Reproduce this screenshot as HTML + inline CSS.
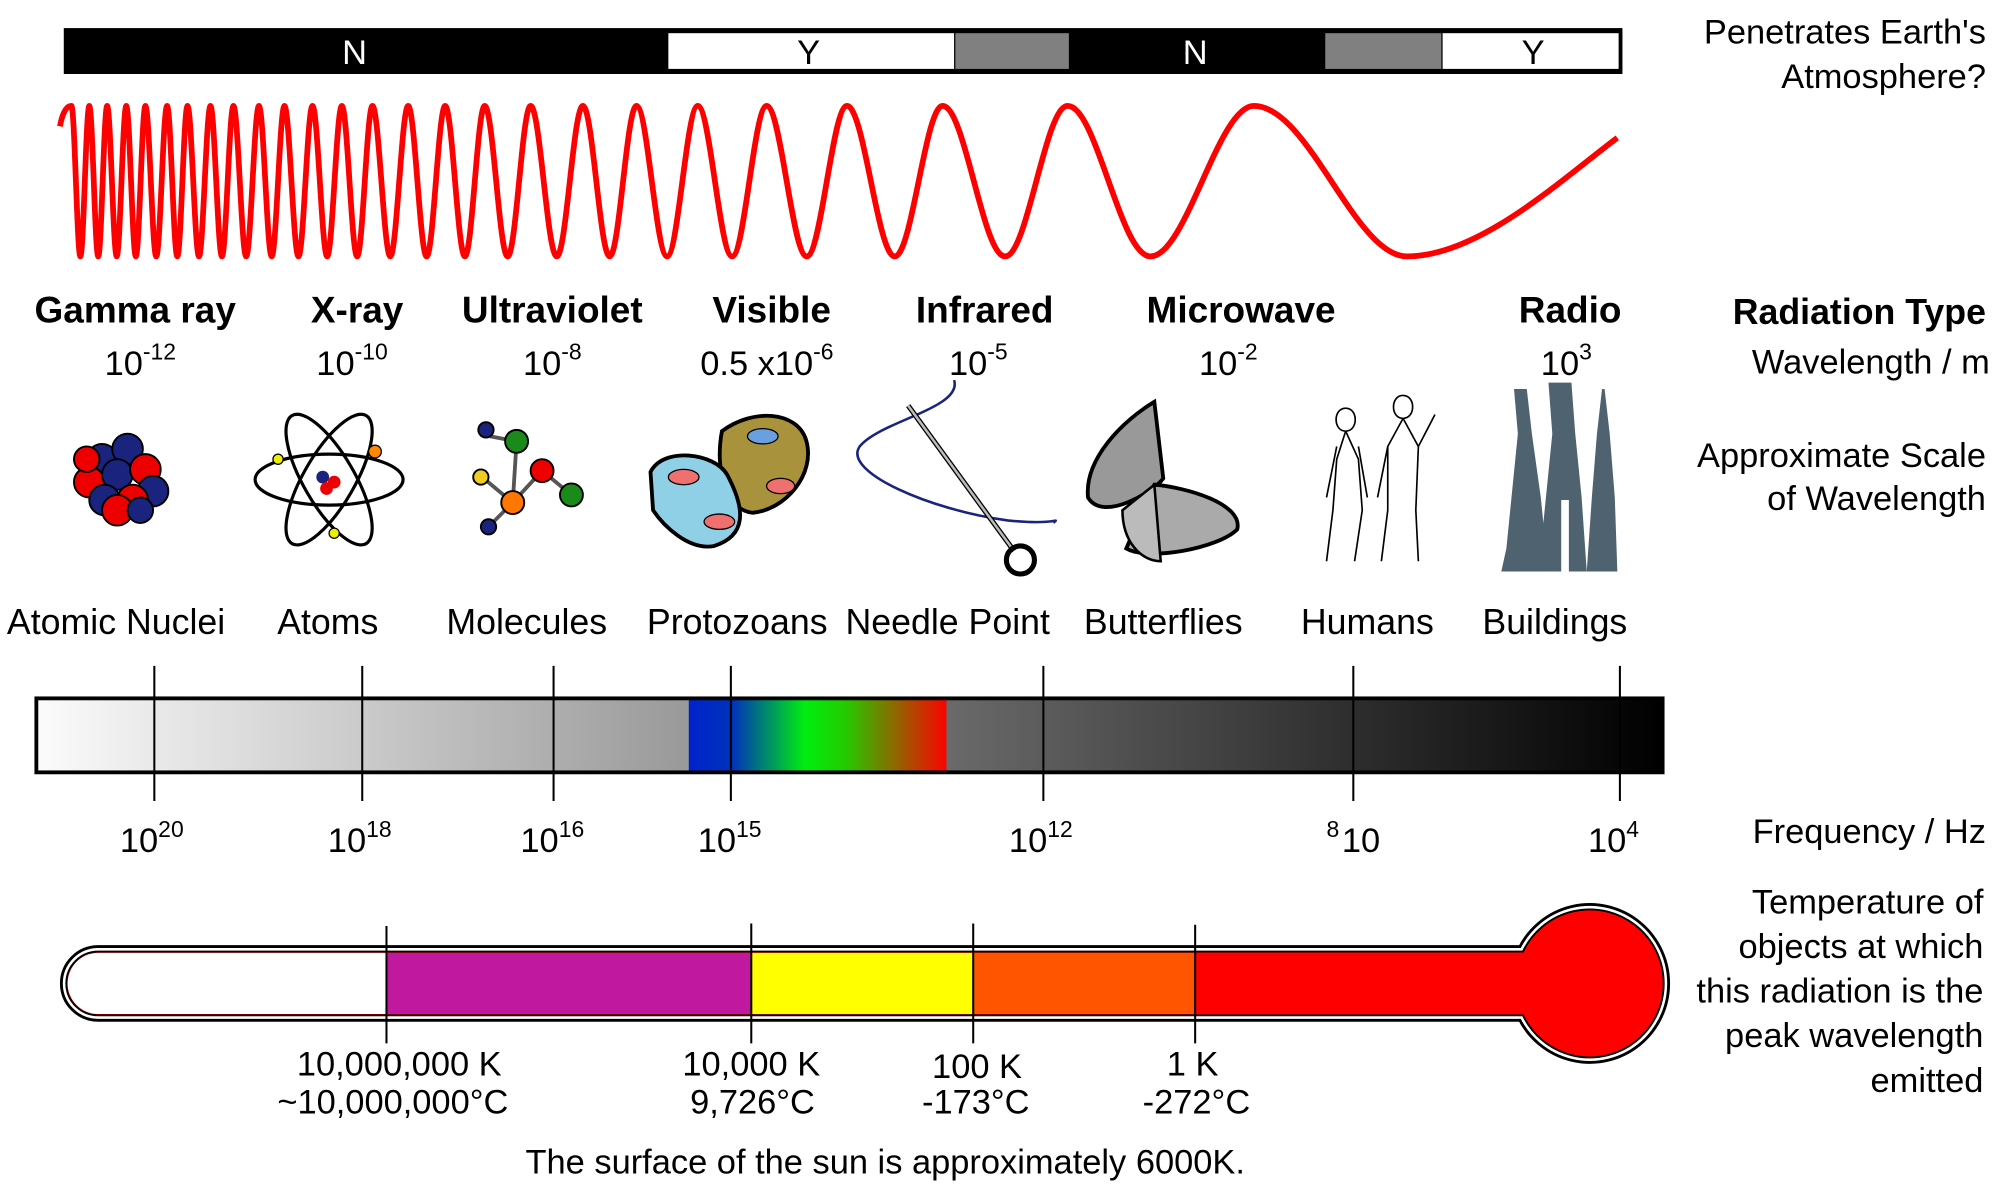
<!DOCTYPE html>
<html><head><meta charset="utf-8"><style>
html,body{margin:0;padding:0;background:#fff;}
svg{display:block;}
text{font-family:"Liberation Sans",sans-serif;fill:#000;}
</style></head><body>
<svg width="2000" height="1185" viewBox="0 0 1568 929" xmlns="http://www.w3.org/2000/svg">
<defs>
<linearGradient id="g1" x1="0" x2="1"><stop offset="0" stop-color="#fbfbfb"/><stop offset="1" stop-color="#999"/></linearGradient>
<linearGradient id="g2" x1="0" x2="1"><stop offset="0" stop-color="#0022cc"/><stop offset="0.17" stop-color="#0033bb"/><stop offset="0.45" stop-color="#00ee10"/><stop offset="0.6" stop-color="#22cc00"/><stop offset="1" stop-color="#ff0000"/></linearGradient>
<linearGradient id="g3" x1="0" x2="1"><stop offset="0" stop-color="#6a6a6a"/><stop offset="1" stop-color="#000"/></linearGradient>
</defs>
<rect x="50" y="22" width="1222" height="36" fill="#000"/>
<rect x="524" y="26" width="224" height="28" fill="#fff"/>
<rect x="749" y="26" width="89" height="28" fill="#808080"/>
<rect x="1039" y="26" width="91" height="28" fill="#808080"/>
<rect x="1131" y="26" width="138" height="28" fill="#fff"/>
<g font-size="27" text-anchor="middle">
<text x="278" y="50" style="fill:#fff">N</text>
<text x="634" y="50">Y</text>
<text x="937" y="50" style="fill:#fff">N</text>
<text x="1202" y="50">Y</text>
</g>
<g font-size="27" text-anchor="end">
<text x="1557" y="34">Penetrates Earth's</text>
<text x="1557" y="69">Atmosphere?</text>
<text x="1557" y="254" font-weight="bold" font-size="28">Radiation Type</text>
<text x="1560" y="293">Wavelength / m</text>
<text x="1557" y="366">Approximate Scale</text>
<text x="1557" y="400">of Wavelength</text>
<text x="1557" y="661">Frequency / Hz</text>
<text x="1555" y="716">Temperature of</text>
<text x="1555" y="751">objects at which</text>
<text x="1555" y="786">this radiation is the</text>
<text x="1555" y="821">peak wavelength</text>
<text x="1555" y="856">emitted</text>
</g>
<path fill="none" stroke="#f00" stroke-width="4.5" d="M47 99 Q50 83 56 83
C58.5 83 60.5 201 63 201 C65.5 201 67.5 83 70 83
C72.5 83 74.5 201 77 201 C79.5 201 81.5 83 84 83
C86.7 83 88.8 201 91.5 201 C94.2 201 96.3 83 99 83
C101.7 83 103.8 201 106.5 201 C109.2 201 111.3 83 114 83
C117.1 83 119.4 201 122.5 201 C125.6 201 127.9 83 131 83
C133.9 83 136.1 201 139 201 C141.9 201 144.1 83 147 83
C150.2 83 152.8 201 156 201 C159.2 201 161.8 83 165 83
C168.2 83 170.8 201 174 201 C177.2 201 179.8 83 183 83
C186.6 83 189.4 201 193 201 C196.6 201 199.4 83 203 83
C206.6 83 209.4 201 213 201 C216.6 201 219.4 83 223 83
C227 83 230 201 234 201 C238 201 241 83 245 83
C249.1 83 252.4 201 256.5 201 C260.6 201 263.9 83 268 83
C272.3 83 275.7 201 280 201 C284.3 201 287.7 83 292 83
C297 83 301 201 306 201 C311 201 315 83 320 83
C325.2 83 329.3 201 334.5 201 C339.7 201 343.8 83 349 83
C354.6 83 358.9 201 364.5 201 C370.1 201 374.4 83 380 83
C386.5 83 391.5 201 398 201 C404.5 201 409.5 83 416 83
C423.4 83 429.1 201 436.5 201 C443.9 201 449.6 83 457 83
C464.6 83 470.4 201 478 201 C485.6 201 491.4 83 499 83
C507.6 83 514.4 201 523 201 C531.6 201 538.4 83 547 83
C556.7 83 564.3 201 574 201 C583.7 201 591.3 83 601 83
C612.3 83 621.2 201 632.5 201 C643.8 201 652.7 83 664 83
C677.5 83 688 201 701.5 201 C715 201 725.5 83 739 83
C756.6 83 770.4 201 788 201 C805.6 201 819.4 83 837 83
C860 83 878 201 902 201 C930 201 955 83 983 83
C1026 83 1062 201 1103 201 C1160 201 1225 140 1268 108"/>
<g font-size="29" font-weight="bold" text-anchor="middle">
<text x="106" y="253">Gamma ray</text><text x="280" y="253">X-ray</text><text x="433" y="253">Ultraviolet</text>
<text x="605" y="253">Visible</text><text x="772" y="253">Infrared</text><text x="973" y="253">Microwave</text><text x="1231" y="253">Radio</text>
</g>
<g font-size="27">
<text x="82" y="294">10<tspan dy="-12" font-size="18">-12</tspan></text>
<text x="248" y="294">10<tspan dy="-12" font-size="18">-10</tspan></text>
<text x="410" y="294">10<tspan dy="-12" font-size="18">-8</tspan></text>
<text x="549" y="294">0.5 x10<tspan dy="-12" font-size="18">-6</tspan></text>
<text x="744" y="294">10<tspan dy="-12" font-size="18">-5</tspan></text>
<text x="940" y="294">10<tspan dy="-12" font-size="18">-2</tspan></text>
<text x="1208" y="294">10<tspan dy="-12" font-size="18">3</tspan></text>
</g>
<g stroke="#000" stroke-width="1.5">
<circle cx="80" cy="360" r="12" fill="#1a237e"/><circle cx="100" cy="352" r="12" fill="#1a237e"/><circle cx="70" cy="378" r="12" fill="#e00"/>
<circle cx="92" cy="372" r="12" fill="#1a237e"/><circle cx="114" cy="368" r="12" fill="#e00"/><circle cx="120" cy="385" r="12" fill="#1a237e"/>
<circle cx="82" cy="392" r="12" fill="#1a237e"/><circle cx="104" cy="392" r="12" fill="#e00"/><circle cx="68" cy="360" r="10" fill="#e00"/>
<circle cx="92" cy="400" r="12" fill="#e00"/><circle cx="110" cy="400" r="10" fill="#1a237e"/>
</g>
<g fill="none" stroke="#000" stroke-width="2.5">
<ellipse cx="258" cy="376" rx="58" ry="20"/>
<ellipse cx="258" cy="376" rx="58" ry="20" transform="rotate(60 258 376)"/>
<ellipse cx="258" cy="376" rx="58" ry="20" transform="rotate(-60 258 376)"/>
</g>
<circle cx="253" cy="374" r="5" fill="#1a237e"/><circle cx="262" cy="378" r="5" fill="#e00"/><circle cx="256" cy="383" r="5" fill="#e00"/>
<circle cx="218" cy="360" r="4" fill="#ee0" stroke="#000"/><circle cx="294" cy="354" r="5" fill="#f80" stroke="#000"/><circle cx="262" cy="418" r="4" fill="#ee0" stroke="#000"/>
<g stroke="#555" stroke-width="3" fill="none"><path d="M384 342 L405 346 L402 394 L378 374 M402 394 L383 413 M402 394 L425 369 L448 388"/></g>
<g stroke="#000" stroke-width="1.5">
<circle cx="381" cy="337" r="6" fill="#1a237e"/><circle cx="405" cy="346" r="9" fill="#1a8a1a"/><circle cx="377" cy="374" r="6" fill="#ec2"/>
<circle cx="402" cy="394" r="9" fill="#f70"/><circle cx="383" cy="413" r="6" fill="#1a237e"/><circle cx="425" cy="369" r="9" fill="#e00"/><circle cx="448" cy="388" r="9" fill="#1a8a1a"/>
</g>
<path d="M566 338 C590 320 625 322 632 345 C640 372 615 400 590 402 C570 400 560 370 566 338Z" fill="#a8923c" stroke="#000" stroke-width="3"/>
<path d="M510 370 C520 350 560 355 570 372 C585 400 585 420 560 428 C540 432 520 412 512 400Z" fill="#8fd0e6" stroke="#000" stroke-width="3"/>
<ellipse cx="598" cy="342" rx="12" ry="6" fill="#6aa0e0" stroke="#000"/><ellipse cx="536" cy="374" rx="12" ry="6" fill="#f07070" stroke="#000"/>
<ellipse cx="612" cy="381" rx="11" ry="6" fill="#f07070" stroke="#000"/><ellipse cx="564" cy="409" rx="12" ry="6" fill="#f07070" stroke="#000"/>
<path d="M748 298 C755 320 690 330 674 350 C660 370 730 400 790 408 C830 412 830 405 826 410" fill="none" stroke="#1a237e" stroke-width="2"/>
<path d="M712 318 L795 432" stroke="#000" stroke-width="4"/><path d="M712 318 L795 432" stroke="#bbb" stroke-width="2"/>
<circle cx="800" cy="439" r="11" fill="none" stroke="#000" stroke-width="4"/>
<path d="M905 315 C880 330 850 360 853 390 C865 410 905 385 912 375Z" fill="#999" stroke="#000" stroke-width="3"/>
<path d="M905 380 C930 382 975 395 970 415 C955 430 900 440 883 430Z" fill="#aaa" stroke="#000" stroke-width="3"/>
<path d="M905 380 L910 440 C895 440 880 425 880 400Z" fill="#bbb" stroke="#000" stroke-width="2"/>
<g fill="none" stroke="#000" stroke-width="1.3">
<path d="M1055 320 C1045 320 1045 338 1055 338 C1065 338 1065 320 1055 320 M1055 338 L1048 360 L1045 400 L1040 440 M1055 338 L1065 360 L1068 400 L1062 440 M1048 350 L1040 390 M1065 350 L1072 390"/>
<path d="M1100 310 C1090 310 1090 328 1100 328 C1110 328 1110 310 1100 310 M1100 328 L1088 350 L1088 400 L1083 440 M1100 328 L1112 350 L1110 400 L1112 440 M1088 350 L1080 390 M1112 350 L1125 325"/>
</g>
<g fill="#4f6270">
<path d="M1187 305 L1190 340 L1185 390 L1181 430 L1177 448 L1215 448 L1212 430 L1208 390 L1201 340 L1197 305 Z"/>
<path d="M1214 300 L1217 340 L1212 390 L1208 430 L1206 448 L1224 448 L1224 392 L1230 392 L1230 448 L1244 448 L1240 390 L1235 340 L1232 300 Z"/>
<path d="M1256 305 L1252 340 L1248 390 L1244 448 L1268 448 L1266 390 L1262 340 L1258 305 Z"/>
</g>
<g font-size="28" text-anchor="middle">
<text x="91" y="497">Atomic Nuclei</text><text x="257" y="497">Atoms</text><text x="413" y="497">Molecules</text>
<text x="578" y="497">Protozoans</text><text x="743" y="497">Needle Point</text><text x="912" y="497">Butterflies</text>
<text x="1072" y="497">Humans</text><text x="1219" y="497">Buildings</text>
</g>
<rect x="29" y="548" width="512" height="57" fill="url(#g1)"/>
<rect x="540" y="548" width="203" height="57" fill="url(#g2)"/>
<rect x="742" y="548" width="561" height="57" fill="url(#g3)"/>
<rect x="28.5" y="547.5" width="1275" height="58" fill="none" stroke="#000" stroke-width="3"/>
<g stroke="#000" stroke-width="1.6">
<line x1="121" y1="522" x2="121" y2="628"/><line x1="284" y1="522" x2="284" y2="628"/><line x1="434" y1="522" x2="434" y2="628"/>
<line x1="573" y1="522" x2="573" y2="628"/><line x1="818" y1="522" x2="818" y2="628"/><line x1="1061" y1="522" x2="1061" y2="628"/><line x1="1270" y1="522" x2="1270" y2="628"/>
</g>
<g font-size="27">
<text x="94" y="668">10<tspan dy="-12" font-size="18">20</tspan></text>
<text x="257" y="668">10<tspan dy="-12" font-size="18">18</tspan></text>
<text x="408" y="668">10<tspan dy="-12" font-size="18">16</tspan></text>
<text x="547" y="668">10<tspan dy="-12" font-size="18">15</tspan></text>
<text x="791" y="668">10<tspan dy="-12" font-size="18">12</tspan></text>
<text x="1040" y="656" font-size="18">8</text><text x="1052" y="668">10</text>
<text x="1245" y="668">10<tspan dy="-12" font-size="18">4</tspan></text>
</g>
<path d="M1194 746 H77 A25 25 0 0 0 77 796 H1194 A58 58 0 1 0 1194 746 Z" fill="none" stroke="#000" stroke-width="10"/>
<path d="M1194 746 H77 A25 25 0 0 0 77 796 H1194 A58 58 0 1 0 1194 746 Z" fill="none" stroke="#fff" stroke-width="5.5"/>
<path d="M1194 746 H77 A25 25 0 0 0 77 796 H1194 A58 58 0 1 0 1194 746 Z" fill="#f00" stroke="#000" stroke-width="1.5"/>
<path d="M303 747 H77 A24 24 0 0 0 77 795 H303 Z" fill="#fff"/>
<rect x="303" y="747" width="286" height="48" fill="#c0189f"/>
<rect x="589" y="747" width="174" height="48" fill="#ffff00"/>
<rect x="763" y="747" width="174" height="48" fill="#ff5500"/>
<g stroke="#000" stroke-width="1.6">
<line x1="303" y1="726" x2="303" y2="818"/><line x1="589" y1="724" x2="589" y2="818"/><line x1="763" y1="724" x2="763" y2="818"/><line x1="937" y1="725" x2="937" y2="818"/>
</g>
<g font-size="27" text-anchor="middle">
<text x="313" y="843">10,000,000 K</text><text x="308" y="873">~10,000,000°C</text>
<text x="589" y="843">10,000 K</text><text x="590" y="873">9,726°C</text>
<text x="766" y="845">100 K</text><text x="765" y="873">-173°C</text>
<text x="935" y="843">1 K</text><text x="938" y="873">-272°C</text>
<text x="694" y="920">The surface of the sun is approximately 6000K.</text>
</g>
</svg>
</body></html>
